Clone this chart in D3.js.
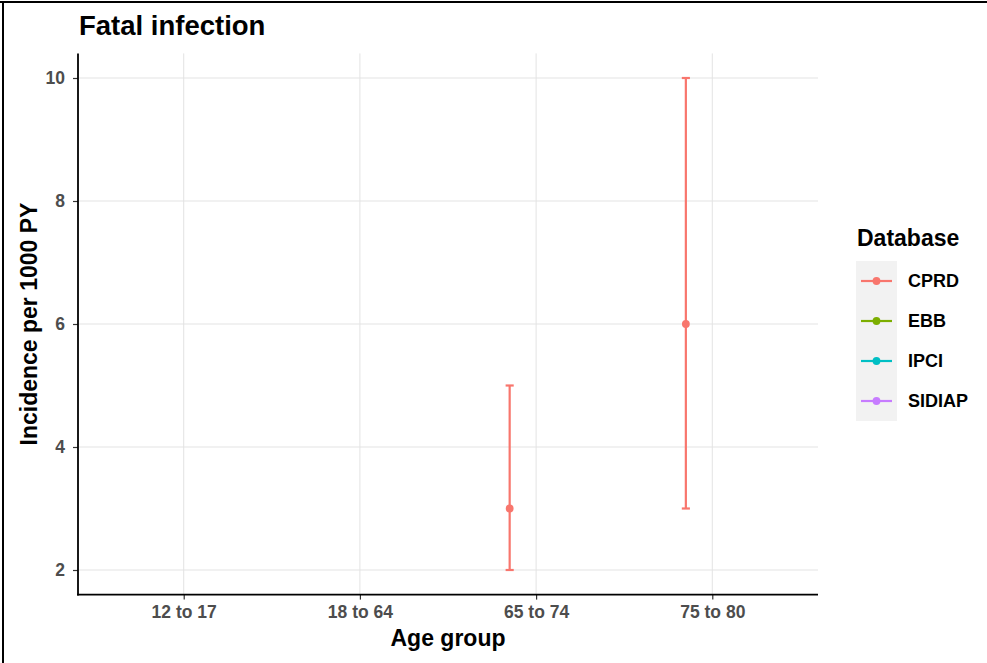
<!DOCTYPE html>
<html>
<head>
<meta charset="utf-8">
<script src="https://cdn.jsdelivr.net/npm/d3@7"></script>
<style>
  html, body { margin: 0; padding: 0; background: #fff; }
  svg { display: block; font-family: "Liberation Sans", Arial, sans-serif; }
</style>
</head>
<body>
<svg id="chart" width="987" height="663"></svg>
<script>
// Age groups on the x axis and the databases in the legend
const ageGroups = ["12 to 17", "18 to 64", "65 to 74", "75 to 80"];
const databases = ["CPRD", "EBB", "IPCI", "SIDIAP"];
const dbColors = ["#F8766D", "#7CAE00", "#00BFC4", "#C77CFF"];

// Fatal infection incidence (per 1000 PY) with confidence limits
const seriesDb    = ["CPRD", "CPRD"];
const seriesAge   = ["65 to 74", "75 to 80"];
const seriesEst   = [3, 6];
const seriesLower = [2, 3];
const seriesUpper = [5, 10];

const yTicks = [2, 4, 6, 8, 10];

const svg = d3.select("#chart");
const panel = { left: 78, right: 818, top: 53.4, bottom: 594.6 };

const x = d3.scalePoint().domain(ageGroups).range([panel.left, panel.right]).padding(0.6);
const y = d3.scaleLinear().domain([1.6, 10.4]).range([panel.bottom, panel.top]);
const color = d3.scaleOrdinal().domain(databases).range(dbColors);

const step = x.step();
const dodge = -0.15 * step;      // dodge offset for the first database
const capHalf = 0.023 * step;    // half width of error bar caps

// Grid lines
const grid = svg.append("g");
grid.selectAll("line.gy").data(yTicks).join("line")
  .attr("x1", panel.left).attr("x2", panel.right)
  .attr("y1", d => y(d)).attr("y2", d => y(d))
  .attr("stroke", "#E3E3E3").attr("stroke-width", 1);
grid.selectAll("line.gx").data(ageGroups).join("line")
  .attr("x1", d => x(d)).attr("x2", d => x(d))
  .attr("y1", panel.top).attr("y2", panel.bottom)
  .attr("stroke", "#E3E3E3").attr("stroke-width", 1);

// Axes
const yAxis = svg.append("g")
  .attr("transform", `translate(${panel.left},0)`)
  .call(d3.axisLeft(y).tickValues(yTicks).tickSize(5).tickPadding(8).tickFormat(d3.format("d")));
const xAxis = svg.append("g")
  .attr("transform", `translate(0,${panel.bottom})`)
  .call(d3.axisBottom(x).tickSize(5).tickPadding(6));

[yAxis, xAxis].forEach(ax => {
  ax.select(".domain").remove();
  ax.selectAll(".tick line").attr("stroke", "#333").attr("stroke-width", 1.2);
  ax.selectAll(".tick text")
    .attr("fill", "#4D4D4D").attr("font-size", 17.5).attr("font-weight", "bold")
    .attr("font-family", "Liberation Sans, Arial, sans-serif");
});

// Axis lines
svg.append("line")
  .attr("x1", panel.left).attr("x2", panel.left)
  .attr("y1", panel.top).attr("y2", panel.bottom + 0.8)
  .attr("stroke", "#000").attr("stroke-width", 1.8);
svg.append("line")
  .attr("x1", panel.left - 0.9).attr("x2", panel.right)
  .attr("y1", panel.bottom).attr("y2", panel.bottom)
  .attr("stroke", "#000").attr("stroke-width", 1.8);

// Error bars and points
const rows = seriesDb.map((db, i) => ({
  db, age: seriesAge[i], est: seriesEst[i], lo: seriesLower[i], hi: seriesUpper[i]
}));
const marks = svg.append("g");
rows.forEach(r => {
  const cx = x(r.age) + dodge;
  const c = color(r.db);
  marks.append("line").attr("x1", cx).attr("x2", cx)
    .attr("y1", y(r.lo)).attr("y2", y(r.hi))
    .attr("stroke", c).attr("stroke-width", 2.2);
  [r.lo, r.hi].forEach(v => {
    marks.append("line").attr("x1", cx - capHalf).attr("x2", cx + capHalf)
      .attr("y1", y(v)).attr("y2", y(v))
      .attr("stroke", c).attr("stroke-width", 2.2);
  });
  marks.append("circle").attr("cx", cx).attr("cy", y(r.est)).attr("r", 3.9).attr("fill", c);
});

// Titles
svg.append("text").attr("x", 79).attr("y", 35)
  .attr("font-size", 27.5).attr("font-weight", "bold").attr("fill", "#000")
  .text("Fatal infection");
svg.append("text").attr("x", (panel.left + panel.right) / 2).attr("y", 646)
  .attr("text-anchor", "middle").attr("font-size", 23).attr("font-weight", "bold")
  .text("Age group");
svg.append("text")
  .attr("transform", `translate(37,${(panel.top + panel.bottom) / 2}) rotate(-90)`)
  .attr("text-anchor", "middle").attr("font-size", 23).attr("font-weight", "bold")
  .text("Incidence per 1000 PY");

// Legend
const legend = svg.append("g").attr("transform", "translate(856,0)");
legend.append("text").attr("x", 1).attr("y", 246)
  .attr("font-size", 23).attr("font-weight", "bold").text("Database");
legend.append("rect").attr("x", 0).attr("y", 261).attr("width", 41).attr("height", 160)
  .attr("fill", "#F2F2F2");
databases.forEach((db, i) => {
  const cy = 281 + i * 40;
  legend.append("line").attr("x1", 5).attr("x2", 36).attr("y1", cy).attr("y2", cy)
    .attr("stroke", color(db)).attr("stroke-width", 2.2);
  legend.append("circle").attr("cx", 20.5).attr("cy", cy).attr("r", 3.9).attr("fill", color(db));
  legend.append("text").attr("x", 52).attr("y", cy).attr("dy", "0.36em")
    .attr("font-size", 18).attr("font-weight", "bold").text(db);
});

// Frame edges
svg.append("rect").attr("x", 0).attr("y", 1).attr("width", 987).attr("height", 2).attr("fill", "#000");
svg.append("rect").attr("x", 2).attr("y", 1).attr("width", 2).attr("height", 662).attr("fill", "#000");
</script>
</body>
</html>
